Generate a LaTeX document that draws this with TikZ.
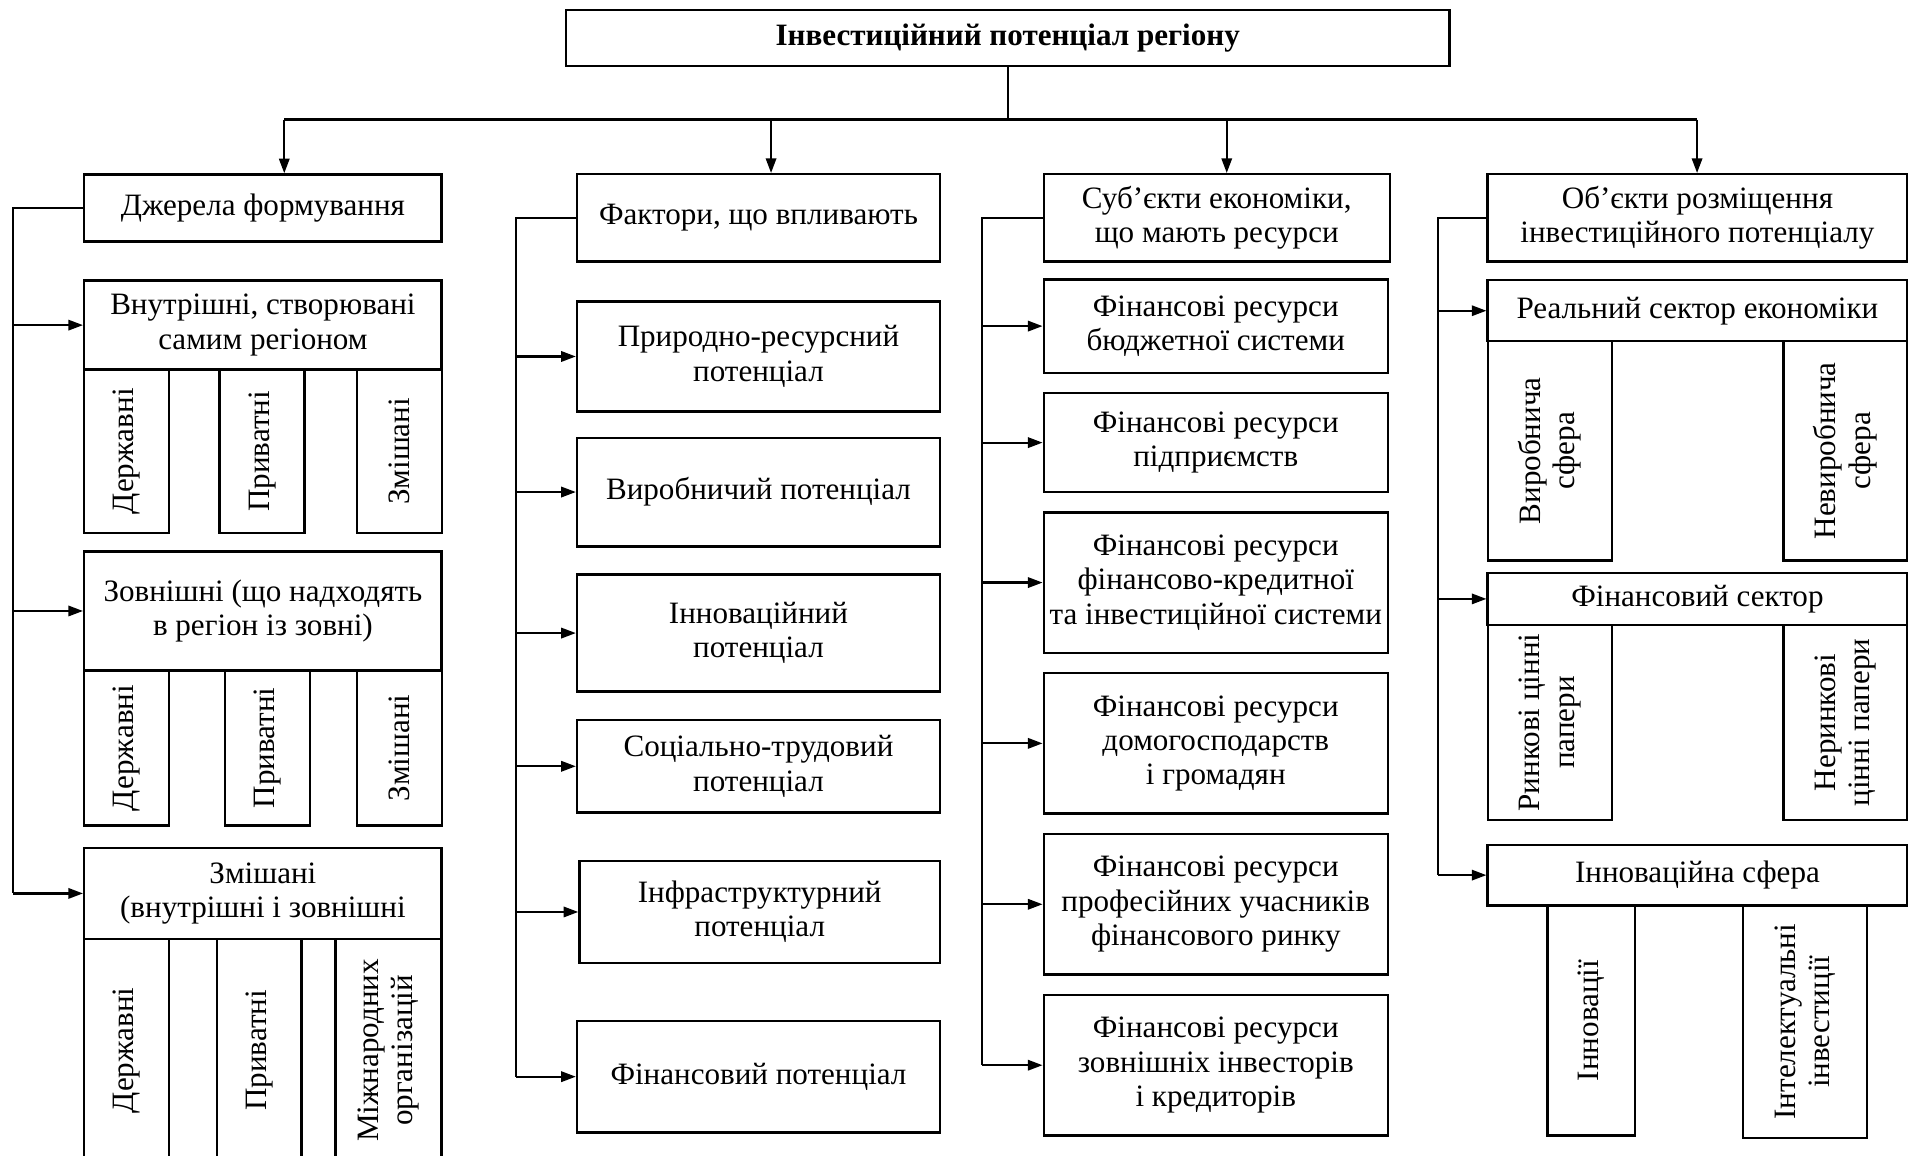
\documentclass[tikz,border=0pt]{standalone}
\usepackage{fontspec}
\setmainfont{Liberation Serif}
\usetikzlibrary{arrows.meta}

\begin{document}
\begin{tikzpicture}[%
    x=0.2mm, y=-0.2mm,
    font=\fontsize{14.5}{16}\selectfont,
    every node/.style={
        draw,
        rectangle,
        line width=1.1pt,
        inner sep=1pt,
        align=center
        },
    vert/.style={rotate=90},
    link/.style={line width=1pt},
    arr/.style={link, -{Triangle[length=2.4mm, width=1.7mm]}},
]

\useasboundingbox (0,0) rectangle (1568,947);

% title
\node[font=\fontsize{14.5}{16}\selectfont\bfseries, minimum width=144.8mm, minimum height=9.2mm]
    (title) at (826,31) {Інвестиційний потенціал регіону};

% column 1
\node[minimum width=58.6mm, minimum height=11mm] (src) at (215.5,170.5) {Джерела формування};
\node[minimum width=58.6mm, minimum height=14.6mm] (vn) at (215.5,266.5) {Внутрішні, створювані\\самим регіоном};
\node[vert, minimum width=26.8mm, minimum height=13.9mm] (vn1) at (103.8,370) {Державні};
\node[vert, minimum width=26.8mm, minimum height=13.9mm] (vn2) at (214.8,370) {Приватні};
\node[vert, minimum width=26.8mm, minimum height=13.9mm] (vn3) at (327.5,370) {Змішані};
\node[minimum width=58.6mm, minimum height=19.5mm] (zv) at (215.5,500.8) {Зовнішні (що надходять\\в регіон із зовні)};
\node[vert, minimum width=25.4mm, minimum height=13.9mm] (zv1) at (103.8,613.1) {Державні};
\node[vert, minimum width=25.4mm, minimum height=13.9mm] (zv2) at (219.3,613.1) {Приватні};
\node[vert, minimum width=25.4mm, minimum height=13.9mm] (zv3) at (327.3,613.1) {Змішані};
\node[minimum width=58.6mm, minimum height=14.9mm] (zm) at (215.5,732.3) {Змішані\\(внутрішні і зовнішні};
\node[vert, minimum width=36.6mm, minimum height=13.9mm] (zm1) at (103.8,861) {Державні};
\node[vert, minimum width=36.6mm, minimum height=13.9mm] (zm2) at (212.5,861) {Приватні};
\node[vert, minimum width=36.6mm, minimum height=17.4mm] (zm3) at (318.5,861) {Міжнародних\\організацій};

% column 2
\node[minimum width=59.5mm, minimum height=14.3mm] (fac) at (621.7,178.5) {Фактори, що впливають};
\node[minimum width=59.5mm, minimum height=18mm] (p1) at (621.7,292.2) {Природно-ресурсний\\потенціал};
\node[minimum width=59.5mm, minimum height=17.8mm] (p2) at (621.7,403.3) {Виробничий потенціал};
\node[minimum width=59.5mm, minimum height=19.2mm] (p3) at (621.7,518.9) {Інноваційний\\потенціал};
\node[minimum width=59.5mm, minimum height=15.2mm] (p4) at (621.7,628.1) {Соціально-трудовий\\потенціал};
\node[minimum width=59.1mm, minimum height=16.7mm] (p5) at (622.7,747.5) {Інфраструктурний\\потенціал};
\node[minimum width=59.5mm, minimum height=18.3mm] (p6) at (621.7,882.5) {Фінансовий потенціал};

% column 3
\node[minimum width=56.7mm, minimum height=14.3mm] (sub) at (997.3,178.5) {Суб’єкти економіки,\\що мають ресурси};
\node[minimum width=56.4mm, minimum height=15.3mm] (r1) at (996.5,267.3) {Фінансові ресурси\\бюджетної системи};
\node[minimum width=56.4mm, minimum height=16.2mm] (r2) at (996.5,362.8) {Фінансові ресурси\\підприємств};
\node[minimum width=56.4mm, minimum height=23mm] (r3) at (996.5,477.5) {Фінансові ресурси\\фінансово-кредитної\\та інвестиційної системи};
\node[minimum width=56.4mm, minimum height=23mm] (r4) at (996.5,609.3) {Фінансові ресурси\\домогосподарств\\і громадян};
\node[minimum width=56.4mm, minimum height=23mm] (r5) at (996.5,741.2) {Фінансові ресурси\\професійних учасників\\фінансового ринку};
\node[minimum width=56.4mm, minimum height=23.1mm] (r6) at (996.5,873.1) {Фінансові ресурси\\зовнішніх інвесторів\\і кредиторів};

% column 4
\node[minimum width=68.8mm, minimum height=14.3mm] (obj) at (1391.3,178.5) {Об’єкти розміщення\\інвестиційного потенціалу};
\node[minimum width=68.8mm, minimum height=10mm] (rs) at (1391.3,254.7) {Реальний сектор економіки};
\node[vert, minimum width=36mm, minimum height=20.4mm] (rs1) at (1270.4,369.5) {Виробнича\\сфера};
\node[vert, minimum width=36mm, minimum height=20.3mm] (rs2) at (1512.5,369.5) {Невиробнича\\сфера};
\node[minimum width=68.8mm, minimum height=8.6mm] (fs) at (1391.3,490.9) {Фінансовий сектор};
\node[vert, minimum width=31.9mm, minimum height=20.4mm] (fs1) at (1270.4,592.2) {Ринкові цінні\\папери};
\node[vert, minimum width=31.9mm, minimum height=20.3mm] (fs2) at (1512.5,592.2) {Неринкові\\цінні папери};
\node[minimum width=68.8mm, minimum height=9.9mm] (is) at (1391.3,717.3) {Інноваційна сфера};
\node[vert, minimum width=37.7mm, minimum height=14.3mm] (is1) at (1304.2,836.4) {Інновації};
\node[vert, minimum width=38.2mm, minimum height=20.3mm] (is2) at (1479.4,837.4) {Інтелектуальні\\інвестиції};

% top bar
\coordinate (t1) at (233,98);
\coordinate (t2) at (632,98);
\coordinate (t3) at (1005.5,98);
\coordinate (t4) at (1391,98);
\draw[link] (title.south) -- (title.south |- t1);
\draw[link] (t1) -- (t4);
\foreach \t/\n in {t1/src, t2/fac, t3/sub, t4/obj}
    \draw[arr] (\t) -- (\t |- \n.north);

% trunks
\coordinate (k1) at (11,0);
\coordinate (k2) at (422.6,0);
\coordinate (k3) at (804.8,0);
\coordinate (k4) at (1178.8,0);
\draw[link] (src.west) -- (src.west -| k1) -- (zm.west -| k1);
\draw[link] (fac.west) -- (fac.west -| k2) -- (p6.west -| k2);
\draw[link] (sub.west) -- (sub.west -| k3) -- (r6.west -| k3);
\draw[link] (obj.west) -- (obj.west -| k4) -- (is.west -| k4);
\foreach \n in {vn, zv, zm}
    \draw[arr] (\n.west -| k1) -- (\n.west);
\foreach \n in {p1, p2, p3, p4, p5, p6}
    \draw[arr] (\n.west -| k2) -- (\n.west);
\foreach \n in {r1, r2, r3, r4, r5, r6}
    \draw[arr] (\n.west -| k3) -- (\n.west);
\foreach \n in {rs, fs, is}
    \draw[arr] (\n.west -| k4) -- (\n.west);
\end{tikzpicture}
\end{document}
